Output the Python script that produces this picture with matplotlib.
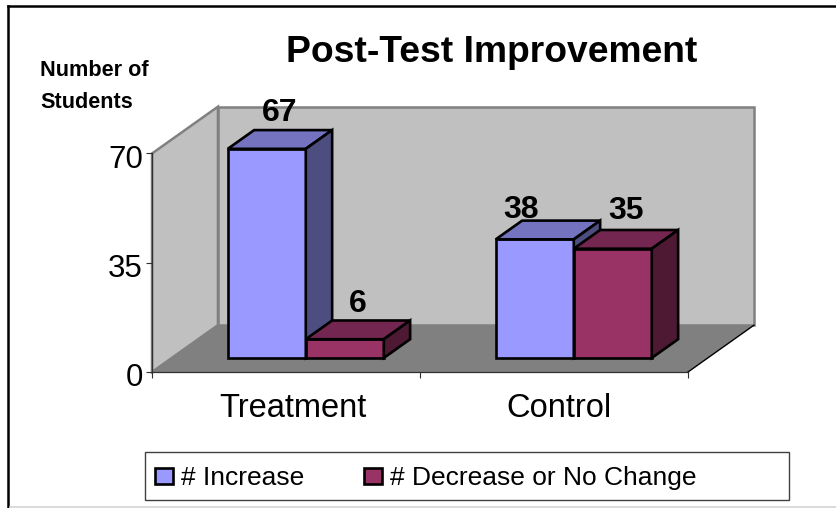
import matplotlib
matplotlib.use('Agg')
import matplotlib.pyplot as plt
from matplotlib.patches import Polygon, Rectangle, Patch
from matplotlib.transforms import ScaledTranslation

plt.rcParams['font.family'] = ['Liberation Sans', 'DejaVu Sans']

categories = ['Treatment', 'Control']
series_names = ['# Increase', '# Decrease or No Change']
increase = [67, 38]
decrease = [6, 35]
y_ticks = [0, 35, 70]

W, H = 837, 508
#colours: front, top, side
blue = ['#9999FF', '#7373BF', '#4D4D80']
plum = ['#993366', '#732650', '#4D1933']

#depth of the fake 3d box in data units
DX = 0.246
DY = 15.0
bar_w = 0.291
gap = 0.209
d0, d1 = 0.3, 0.7


def proj(x, y, d):
    return (x + d * DX, y + d * DY)


def box(ax, x, val, cols):
    a = proj(x, 0, d0)
    b = proj(x + bar_w, 0, d0)
    c = proj(x + bar_w, val, d0)
    e = proj(x, val, d0)
    f = proj(x, val, d1)
    g = proj(x + bar_w, val, d1)
    h = proj(x + bar_w, 0, d1)
    for pts, col in [([a, b, c, e], cols[0]), ([e, c, g, f], cols[1]), ([b, h, g, c], cols[2])]:
        ax.add_patch(Polygon(pts, closed=True, fc=col, ec='black', lw=1.9, joinstyle='miter', clip_on=False, zorder=5))


fig = plt.figure(figsize=(W / 100, H / 100), dpi=100)
ax = fig.add_axes([152 / W, 1 - 372 / H, 536 / W, 218.5 / H])
ax.set_xlim(0, 2)
ax.set_ylim(0, 70)
ax.patch.set_visible(False)

#outer frame, only top and left are black
fig.add_artist(plt.Line2D([8.5 / W, 1], [1 - 6 / H] * 2, transform=fig.transFigure, color='black', lw=1.8))
fig.add_artist(plt.Line2D([8.5 / W] * 2, [1 - 6 / H, 1 - 507 / H], transform=fig.transFigure, color='black', lw=1.8))
fig.add_artist(plt.Line2D([10 / W, 1], [1 - 507 / H] * 2, transform=fig.transFigure, color='#D4D4D4', lw=1.2))

#walls and floor
top = y_ticks[-1]
ax.add_patch(Polygon([proj(0, 0, 1), proj(2, 0, 1), proj(2, top, 1), proj(0, top, 1)], fc='#C0C0C0', ec='#808080', lw=1.8, clip_on=False, zorder=1))
ax.add_patch(Polygon([proj(0, 0, 0), proj(0, 0, 1), proj(0, top, 1), proj(0, top, 0)], fc='#C0C0C0', ec='#808080', lw=1.8, clip_on=False, zorder=1))
ax.add_patch(Polygon([proj(0, 0, 0), proj(2, 0, 0), proj(2, 0, 1), proj(0, 0, 1)], fc='#808080', ec='none', clip_on=False, zorder=2))
p, q = proj(2, 0, 0), proj(2, 0, 1)
ax.plot([p[0], q[0]], [p[1], q[1]], color='black', lw=1, clip_on=False, zorder=3)

#bars, label offsets in points from the back of the bar top
offsets = [(-9.4, 1.7), (-9.4, 1), (-28.8, -3.4), (-9.4, 3)]
k = 0
for i in range(len(categories)):
    x = i + gap
    for vals, cols in [(increase, blue), (decrease, plum)]:
        box(ax, x, vals[i], cols)
        lx, ly = proj(x + bar_w / 2, vals[i], d1)
        ax.annotate(str(vals[i]), (lx, ly), xytext=offsets[k], textcoords='offset points', ha='center', va='bottom',
                    fontsize=23, fontweight='bold', zorder=6, annotation_clip=False)
        x += bar_w
        k += 1

#axes
for s in ['top', 'right']:
    ax.spines[s].set_visible(False)
for s in ['left', 'bottom']:
    ax.spines[s].set_linewidth(0.9)
    ax.spines[s].set_color('#303030')
    ax.spines[s].set_zorder(4)
ax.set_yticks(y_ticks)
ax.set_xticks([0, 1, 2])
ax.set_xticklabels([])
ax.set_xticks([0.526, 1.519], labels=categories, minor=True)
ax.tick_params(axis='y', labelsize=22.5, length=4, width=0.8, pad=2.5, color='#303030')
ax.tick_params(axis='x', which='major', length=4, width=0.8, color='#303030')
ax.tick_params(axis='x', which='minor', length=0, labelsize=23.5, pad=15)
#tick labels sit a little below their ticks
shift = ScaledTranslation(0, -3 / 100, fig.dpi_scale_trans)
for lab in ax.get_yticklabels():
    lab.set_transform(lab.get_transform() + shift)

#titles
fig.text(492 / W, 1 - 52 / H, 'Post-Test Improvement', ha='center', va='center', fontsize=26.8, fontweight='bold')
fig.text(40 / W, 1 - 70 / H, 'Number of', ha='left', va='center', fontsize=15.6, fontweight='bold')
fig.text(40 / W, 1 - 102 / H, 'Students', ha='left', va='center', fontsize=15.6, fontweight='bold')

#legend, frame drawn on its own so the box can be wider than the entries
fig.add_artist(Rectangle((144.5 / W, 1 - 500 / H), 644.5 / W, 48 / H, transform=fig.transFigure, fc='white', ec='#404040', lw=1))
handles = [Patch(fc=blue[0], ec='black', lw=1.9), Patch(fc=plum[0], ec='black', lw=1.9)]
leg = fig.legend(handles, series_names, ncol=2, loc='center left', bbox_to_anchor=(155 / W, 1 - 478 / H),
                 fontsize=19, frameon=False, borderaxespad=0, borderpad=0,
                 handlelength=0.68, handleheight=0.57, handletextpad=0.3, columnspacing=2.27)
leg.set_zorder(5)

fig.savefig('out.png', dpi=100)
